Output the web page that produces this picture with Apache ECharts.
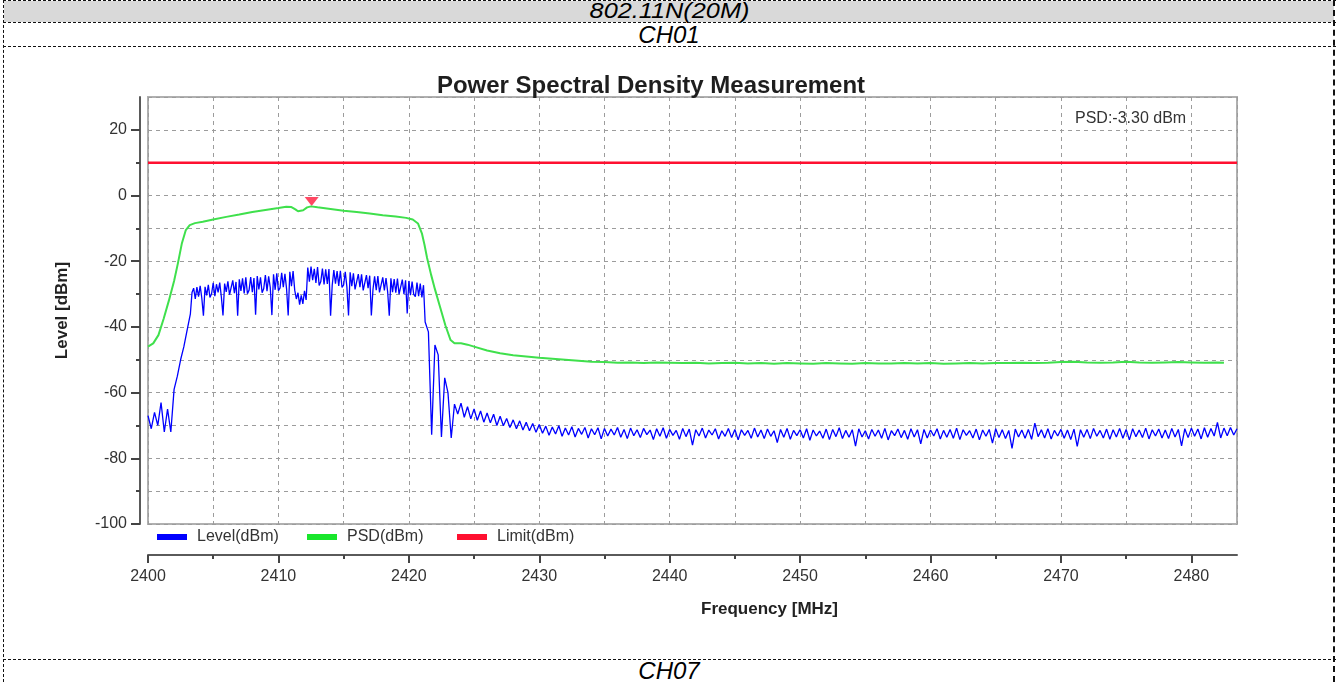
<!DOCTYPE html>
<html>
<head>
<meta charset="utf-8">
<script src="https://cdn.jsdelivr.net/npm/echarts@6/dist/echarts.min.js"></script>
<style>
  html, body { margin: 0; padding: 0; background: #fff; }
  #page { position: relative; width: 1338px; height: 682px; overflow: hidden; font-family: "Liberation Sans", Arial, sans-serif; }
  .hline { position: absolute; left: 3px; width: 1333px; height: 0; border-top: 1px dashed #111; z-index: 1; }
  .vline { position: absolute; top: 0; height: 682px; width: 0; z-index: 1; }
  .row { position: absolute; left: 4px; width: 1330px; text-align: center; font-style: italic; font-size: 24px; color: #000;
         font-family: "Liberation Sans", Arial, sans-serif; }
  .row span { display: inline-block; }
  #chart { position: absolute; left: 0; top: 0; width: 1338px; height: 682px; z-index: 2; }
</style>
</head>
<body>
<div id="page">
  <div class="row" style="top:1px;height:21px;line-height:19px;font-size:22px;background:#d9d9d9;"><span style="transform:scaleX(1.15)">802.11N(20M)</span></div>
  <div class="row" style="top:23px;height:23px;line-height:23px;">CH01</div>
  <div class="row" style="top:660px;height:22px;line-height:22px;">CH07</div>
  <div class="hline" style="top:0px"></div>
  <div class="hline" style="top:22px"></div>
  <div class="hline" style="top:46px"></div>
  <div class="hline" style="top:659px"></div>
  <div class="vline" style="left:3px;border-left:1px dashed #111;"></div>
  <div class="vline" style="left:1333px;border-left:2px dashed #111;"></div>
  <div id="chart"></div>
</div>
<script>
// Level trace (dBm), read in three sweep segments
// rising edge: every 0.25 MHz from 2400 MHz
const levelEdgeStart = 2400;
const levelEdgeStep = 0.25;
const levelEdge = [-67, -71, -66, -70, -63, -72, -65, -72, -59, -55, -50, -46, -41, -36];

// occupied band: every 0.125 MHz from 2403.375 MHz
const levelBandStart = 2403.375;
const levelBandStep = 0.125;
const levelBand = [
  -29.5, -28.2, -31.5, -27.9, -30.8, -27.5, -31.2, -36.6,
  -27.8, -30.4, -27.2, -31.0, -29.9, -26.6, -30.6, -27.0,
  -29.5, -26.5, -30.9, -36.5, -26.8, -29.3, -26.1, -30.2,
  -30.5, -25.8, -29.7, -26.3, -36.6, -25.5, -29.0, -25.2,
  -29.8, -24.9, -29.9, -28.8, -24.8, -29.4, -25.1, -36.3,
  -24.5, -28.6, -24.9, -29.6, -28.3, -24.2, -29.1, -24.6,
  -28.0, -36.4, -24.0, -28.7, -23.7, -29.0, -28.1, -23.5,
  -27.9, -23.8, -28.4, -36.5, -23.2, -27.6, -23.0, -28.8,
  -31.5, -29.6, -33.2, -30.4, -33.0, -29.0, -31.8, -21.9,
  -26.2, -21.6, -25.8, -22.3, -26.6, -21.8, -27.4, -26.2,
  -22.2, -27.1, -22.5, -26.9, -22.4, -36.6, -27.3, -22.7,
  -26.8, -23.0, -27.5, -22.9, -28.0, -27.2, -23.2, -27.8,
  -36.5, -23.4, -27.6, -23.7, -28.6, -28.1, -23.9, -27.9,
  -24.0, -28.9, -28.4, -24.2, -28.2, -24.4, -36.5, -28.6,
  -24.6, -28.8, -24.5, -29.5, -29.0, -24.9, -28.9, -25.1,
  -29.3, -36.6, -25.2, -29.4, -25.4, -29.6, -25.3, -30.0,
  -29.7, -25.6, -30.0, -25.8, -35.9, -26.0, -30.3, -26.2,
  -30.1, -30.8, -26.5, -30.6, -26.8, -31.0, -27.3
];

// falling edge and noise floor: every 0.25 MHz from 2421.25 MHz
const levelFloorStart = 2421.25;
const levelFloorStep = 0.25;
const levelFloor = [
  -38.5, -41.5, -72.8, -45.5, -48.5,
  -73.5, -55.5, -60.0, -73.8, -63.5, -66.5, -63.2, -67.5, -64.3, -68.0,
  -65.0, -68.4, -65.6, -69.0, -66.2, -69.2, -66.6, -70.0, -67.2, -70.1,
  -67.9, -70.6, -68.3, -71.0, -68.6, -71.4, -69.0, -71.6, -69.4, -72.1,
  -69.7, -72.4, -70.2, -73.0, -70.5, -72.6, -70.1, -73.3, -70.8, -72.9,
  -70.4, -73.5, -70.9, -72.7, -70.6, -73.8, -71.0, -72.8, -70.7, -74.1,
  -70.9, -73.2, -71.1, -72.9, -70.6, -73.6, -71.2, -74.0, -70.8, -73.1,
  -71.3, -73.7, -70.9, -72.8, -71.4, -74.3, -71.0, -73.3, -70.7, -73.9,
  -71.2, -73.0, -71.5, -74.2, -70.9, -73.4, -71.1, -76.0, -71.3, -73.2,
  -70.8, -73.8, -71.4, -72.9, -71.0, -74.1, -71.6, -73.3, -70.9, -73.7,
  -71.2, -74.4, -71.3, -73.0, -71.5, -73.9, -70.8, -73.5, -71.4, -74.0,
  -71.1, -73.3, -71.6, -75.2, -71.2, -73.6, -70.9, -74.2, -71.5, -73.1,
  -71.3, -73.8, -71.0, -74.5, -71.4, -73.2, -71.7, -73.9, -71.1, -74.3,
  -71.2, -73.4, -70.7, -74.0, -71.5, -73.6, -71.3, -76.3, -71.0, -73.5,
  -71.6, -74.1, -71.2, -73.3, -71.4, -73.9, -70.9, -74.4, -71.6, -73.1,
  -71.1, -73.7, -71.5, -74.2, -71.0, -73.5, -71.3, -75.6, -71.2, -73.8,
  -71.4, -73.2, -71.0, -74.1, -71.5, -73.6, -71.2, -73.9, -70.8, -74.3,
  -71.3, -73.0, -71.6, -73.8, -71.1, -74.4, -71.4, -73.3, -71.2, -75.4,
  -71.0, -73.7, -71.3, -74.0, -71.5, -77.0, -71.1, -73.5, -71.4, -73.9,
  -71.2, -74.2, -69.3, -73.4, -71.3, -73.8, -71.0, -74.1, -71.5, -73.2,
  -71.2, -73.9, -71.4, -74.3, -71.1, -76.4, -71.3, -73.6, -71.2, -74.0,
  -70.9, -73.3, -71.5, -73.8, -71.1, -74.2, -71.3, -73.5, -70.9, -73.9,
  -71.2, -74.4, -71.0, -73.4, -71.4, -73.7, -70.8, -74.1, -71.3, -73.2,
  -71.1, -73.8, -71.4, -74.0, -70.9, -73.5, -71.2, -76.2, -71.0, -73.7,
  -70.8, -73.3, -71.1, -74.1, -70.7, -73.6, -70.9, -73.2, -69.1, -73.8,
  -70.8, -73.1, -70.6, -72.9, -71.0
];

// PSD trace (MHz, dBm)
const psdFreq = [
  2400.0, 2400.4, 2400.8, 2401.2, 2401.6, 2402.0, 2402.3, 2402.6, 2402.9, 2403.2,
  2403.6, 2404.2, 2405.0, 2406.0, 2407.0, 2408.0, 2409.0, 2410.0, 2410.6, 2411.0,
  2411.3, 2411.5, 2411.9, 2412.2, 2412.5, 2413.0, 2414.0, 2415.0, 2416.0, 2417.0,
  2418.0, 2419.0, 2419.8, 2420.3, 2420.7, 2421.0, 2421.2, 2421.4, 2421.7, 2422.0,
  2422.4, 2422.8, 2423.2, 2423.5, 2424.0, 2424.5, 2425.0, 2426.0, 2427.0, 2428.0,
  2429.0, 2430.0, 2431.0, 2432.0, 2433.0, 2434.0, 2435.0, 2436.0, 2437.0, 2438.0,
  2439.0, 2440.0, 2441.0, 2442.0, 2443.0, 2444.0, 2445.0, 2446.0, 2447.0, 2448.0,
  2449.0, 2450.0, 2451.0, 2452.0, 2453.0, 2454.0, 2455.0, 2456.0, 2457.0, 2458.0,
  2459.0, 2460.0, 2461.0, 2462.0, 2463.0, 2464.0, 2465.0, 2466.0, 2467.0, 2468.0,
  2469.0, 2470.0, 2471.0, 2472.0, 2473.0, 2474.0, 2475.0, 2476.0, 2477.0, 2478.0,
  2479.0, 2480.0, 2481.0, 2482.0, 2482.5
];
const psdLevel = [
  -46.0, -45.0, -42.5, -37.5, -32.0, -26.0, -20.5, -14.5, -10.5, -9.0,
  -8.4, -8.0, -7.3, -6.5, -5.8, -5.0, -4.4, -3.8, -3.4, -3.5,
  -4.2, -4.8, -4.5, -3.6, -3.3, -3.6, -4.1, -4.6, -5.0, -5.5,
  -6.0, -6.4, -6.8, -7.3, -8.5, -11.5, -15.0, -19.0, -24.0, -28.5,
  -34.0, -39.5, -44.0, -45.0, -45.0, -45.4, -46.0, -47.2, -48.0, -48.6,
  -49.0, -49.4, -49.7, -50.0, -50.3, -50.6, -50.7, -50.9, -50.8, -51.0,
  -50.8, -50.9, -51.0, -50.9, -51.1, -51.0, -50.9, -51.1, -51.0, -51.2,
  -51.0, -51.1, -51.2, -51.0, -51.1, -51.2, -51.0, -51.1, -51.1, -51.0,
  -51.1, -51.0, -51.2, -51.1, -51.0, -51.1, -51.0, -51.0, -50.9, -51.0,
  -50.9, -50.7, -50.6, -50.8, -50.9, -50.8, -50.6, -50.8, -50.9, -50.8,
  -50.7, -50.8, -50.9, -50.8, -50.9
];

// limit line
const limitFreq = [2400, 2483.5];
const limitLevel = 10;

// PSD peak marker
const peakFreq = 2412.55;
const peakLevel = -3.3;
const peakLabel = 'PSD:-3.30 dBm';

// axes
const freqMin = 2400, freqMax = 2483.5;
const levelMin = -100, levelMax = 30;
const xTickLabels = [2400, 2410, 2420, 2430, 2440, 2450, 2460, 2470, 2480];
const xMinorTicks = [2405, 2415, 2425, 2435, 2445, 2455, 2465, 2475];
const yTickLabels = [-100, -80, -60, -40, -20, 0, 20];
const yMinorTicks = [-90, -70, -50, -30, -10, 10];

const FONT = '"Liberation Sans", Arial, sans-serif';

const sweep = (start, step, values) => values.map((v, i) => [start + i * step, v]);
const levelPoints = [].concat(
  sweep(levelEdgeStart, levelEdgeStep, levelEdge),
  sweep(levelBandStart, levelBandStep, levelBand),
  sweep(levelFloorStart, levelFloorStep, levelFloor)
);
const psdPoints = psdFreq.map((f, i) => [f, psdLevel[i]]);
const limitPoints = limitFreq.map(f => [f, limitLevel]);

const chart = echarts.init(document.getElementById('chart'));

const gridLine = { show: true, lineStyle: { color: '#9c9c9c', width: 1, type: [4, 4] } };
const hidden = { show: false };

chart.setOption({
  animation: false,
  backgroundColor: 'transparent',
  textStyle: { fontFamily: FONT },
  title: {
    text: 'Power Spectral Density Measurement',
    left: 651,
    top: 74,
    textAlign: 'center',
    padding: 0,
    textStyle: { fontSize: 24, fontWeight: 'bold', color: '#1e1e1e', fontFamily: FONT }
  },
  legend: [
    { data: ['Level(dBm)'], left: 157, top: 529 },
    { data: ['PSD(dBm)'], left: 307, top: 529 },
    { data: ['Limit(dBm)'], left: 457, top: 529 }
  ].map(l => Object.assign(l, {
    icon: 'rect', itemWidth: 30, itemHeight: 6, padding: 0,
    selectedMode: false,
    textStyle: { fontSize: 16, color: '#333', padding: [0, 0, 0, 5], fontFamily: FONT }
  })),
  grid: {
    left: 148, top: 97, width: 1089, height: 427,
    show: true, borderColor: '#b0b0b0', borderWidth: 2, backgroundColor: 'transparent'
  },
  xAxis: [
    {
      type: 'value', min: freqMin, max: freqMax, interval: 5,
      axisLine: hidden, axisTick: hidden, axisLabel: hidden, splitLine: gridLine
    },
    {
      type: 'value', position: 'bottom', offset: 31, min: freqMin, max: freqMax,
      axisLine: { show: true, onZero: false, lineStyle: { color: '#5a5a5a', width: 2 } },
      axisTick: { show: true, length: 8, customValues: xTickLabels, lineStyle: { color: '#444', width: 2 } },
      axisLabel: { show: true, customValues: xTickLabels, margin: 14, color: '#333', fontSize: 16,
                   formatter: v => String(v) },
      splitLine: hidden,
      name: 'Frequency [MHz]', nameLocation: 'middle', nameGap: 46,
      nameTextStyle: { fontSize: 17, fontWeight: 'bold', color: '#222', padding: [0, 0, 0, 154] }
    },
    {
      type: 'value', position: 'bottom', offset: 31, min: freqMin, max: freqMax,
      axisLine: { show: false, onZero: false },
      axisTick: { show: true, length: 4, customValues: xMinorTicks, lineStyle: { color: '#444', width: 2 } },
      axisLabel: hidden, splitLine: hidden
    }
  ],
  yAxis: [
    {
      type: 'value', min: levelMin, max: levelMax, interval: 10,
      axisLine: hidden, axisTick: hidden, axisLabel: hidden, splitLine: gridLine
    },
    {
      type: 'value', position: 'left', offset: 8, min: levelMin, max: levelMax,
      axisLine: { show: true, onZero: false, lineStyle: { color: '#5a5a5a', width: 2 } },
      axisTick: { show: true, length: 9, customValues: yTickLabels, lineStyle: { color: '#444', width: 2 } },
      axisLabel: { show: true, customValues: yTickLabels, margin: 13, color: '#333', fontSize: 16,
                   formatter: v => String(v) },
      splitLine: hidden,
      name: 'Level [dBm]', nameLocation: 'middle', nameGap: 69,
      nameTextStyle: { fontSize: 17, fontWeight: 'bold', color: '#222' }
    },
    {
      type: 'value', position: 'left', offset: 8, min: levelMin, max: levelMax,
      axisLine: { show: false, onZero: false },
      axisTick: { show: true, length: 4, customValues: yMinorTicks, lineStyle: { color: '#444', width: 2 } },
      axisLabel: hidden, splitLine: hidden
    }
  ],
  graphic: [
    {
      type: 'text', left: 1075, top: 111, silent: true,
      style: { text: peakLabel, fill: '#333', font: '16px ' + FONT }
    }
  ],
  series: [
    {
      name: 'Level(dBm)', type: 'line', data: levelPoints,
      showSymbol: false, silent: true,
      lineStyle: { color: '#0000ff', width: 1.3 }, itemStyle: { color: '#0000ff' }
    },
    {
      name: 'PSD(dBm)', type: 'line', data: psdPoints,
      showSymbol: false, silent: true,
      lineStyle: { color: '#3fe04c', width: 2 }, itemStyle: { color: '#19e62c' }
    },
    {
      name: 'Limit(dBm)', type: 'line', data: limitPoints,
      showSymbol: false, silent: true,
      lineStyle: { color: '#ff1030', width: 2.5 }, itemStyle: { color: '#ff1030' }
    },
    {
      name: 'peak', type: 'scatter', data: [[peakFreq, peakLevel]],
      symbol: 'triangle', symbolRotate: 180, symbolSize: [14, 9], symbolOffset: [0, -5],
      silent: true, itemStyle: { color: '#ff1a3c' }
    }
  ]
});
</script>
</body>
</html>
